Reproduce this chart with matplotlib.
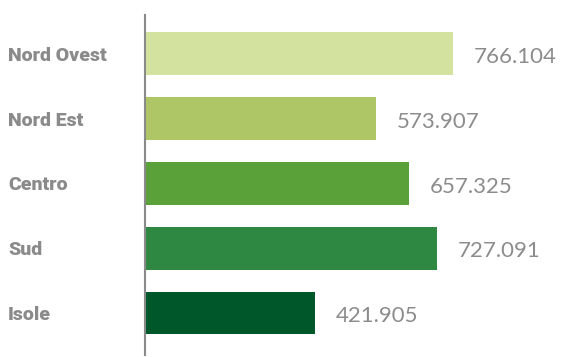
import matplotlib.pyplot as plt

# regions and values (thousands)
regions = ['Nord Ovest', 'Nord Est', 'Centro', 'Sud', 'Isole']
values = [766.104, 573.907, 657.325, 727.091, 421.905]
labels = ['766.104', '573.907', '657.325', '727.091', '421.905']
colors = ['#d4e29f', '#aec666', '#5aa13a', '#2f8841', '#00582a']

fig = plt.figure(figsize=(5.65, 3.57), dpi=100)
ax = fig.add_axes([145 / 565, 2 / 357, 420 / 565, 340 / 357])

pos = list(range(len(regions)))
ax.barh(pos, values, height=0.66, color=colors)
ax.set_ylim(4.65, -0.6)
ax.set_xlim(0, 1045)

# value labels to the right of each bar
for p, v, t in zip(pos, values, labels):
    ax.annotate(t, (v, p + 0.05), xytext=(15, 0), textcoords='offset points',
                va='center', ha='left', fontsize=16, color='#8c8c8c',
                family='Lato')

# region names on the left
for p, r in zip(pos, regions):
    ax.text(-137 / 565 * 1045 / (420 / 565), p + 0.03, r, va='center', ha='left',
            fontsize=14, fontweight='heavy', color='#8a8a8a',
            family='Roboto')

for s in ['top', 'right', 'bottom']:
    ax.spines[s].set_visible(False)
ax.spines['left'].set_color('#8a8a8a')
ax.spines['left'].set_linewidth(1.5)
ax.set_xticks([])
ax.set_yticks([])

fig.savefig('out.png', dpi=100)
